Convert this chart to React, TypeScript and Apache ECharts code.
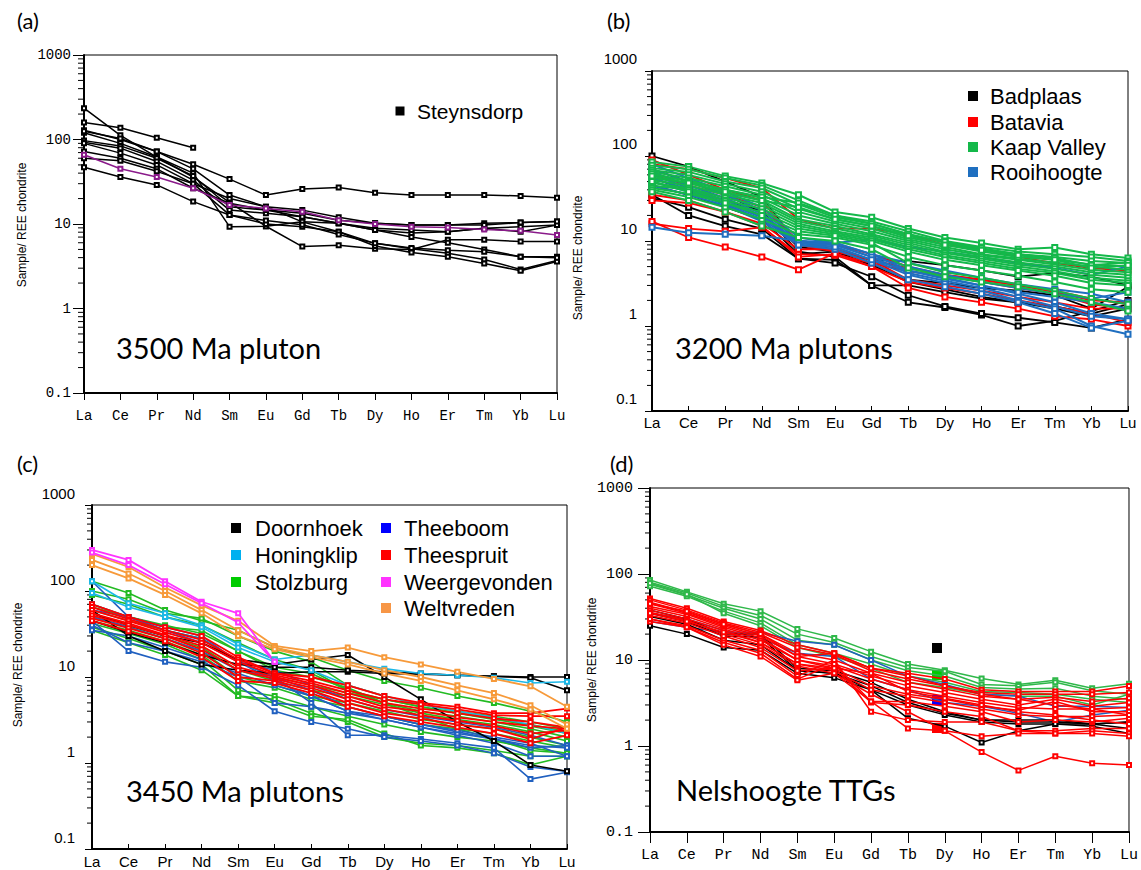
import React, { useEffect, useRef } from "react";
import * as echarts from "echarts";

const REE = ["La", "Ce", "Pr", "Nd", "Sm", "Eu", "Gd", "Tb", "Dy", "Ho", "Er", "Tm", "Yb", "Lu"];
const MINOR_TICKS = [0.2, 0.3, 0.4, 0.5, 0.6, 0.7, 0.8, 0.9, 2, 3, 4, 5, 6, 7, 8, 9, 20, 30, 40, 50, 60, 70, 80, 90, 200, 300, 400, 500, 600, 700, 800, 900];

// (a) 3500 Ma pluton
const steynsdorp = [
  [129, 100, 72, 51, 34, 22, 26, 27, 23.5, 22, 22, 22, 21.5, 20.5],
  [159, 138, 105, 80, null, null, null, null, null, null, null, null, null, null],
  [235, 112, 62, 36, 18, 9.4, 5.4, 5.6, 5.1, 5.0, 6.5, 6.5, 6.2, 6.2],
  [120, 90, 62, 40, 9.3, 9.4, 10.6, 10.2, 8.5, 7.8, 8.1, 8.9, 9.3, 9.7],
  [97, 84, 60, 37, 16, 14.6, 13.4, 11.1, 10.2, 9.7, 9.7, 10.2, 10.4, 10.7],
  [93, 79, 55, 33, 14.6, 13.4, 12.2, 10.2, 8.9, 8.5, 8.1, 8.9, 8.1, 9.7],
  [90, 69, 50, 30, 20, 16, 14.6, 12.0, 10.2, 9.7, 9.7, 9.7, 10.4, 10.7],
  [72, 60, 45, 26.5, 17.6, 14.6, 12.2, 10.2, 8.5, 7.0, 6.0, 5.0, 4.1, 4.1],
  [125, 103, 72, 45, 22, 16, 10.6, 8.1, 5.9, 5.1, 4.5, 3.8, 2.9, 3.7],
  [60, 56, 42, 30, 12.8, 10, 9.3, 8.1, 5.5, 4.6, 4.1, 3.4, 2.8, 3.6],
  [47, 36, 29, 18.4, 12.8, 11, 9.8, 7.5, 5.9, 5.2, 4.9, 4.7, 4.1, 4.0],
];
const steynsdorpMean = [[66, 45, 36, 26.5, 16.8, 15.3, 14.0, 11.1, 10, 9.3, 9.1, 8.6, 8.3, 7.4]];

// (b) 3200 Ma plutons
const badplaas = [
  [100, 75, 50, 33, 9, 8, 5.5, 3.5, 3.2, 2.8, 2.6, 2.3, 1.6, 2.9],
  [35, 20, 15, 12, 6.2, 6.0, 3.0, 1.9, 1.65, 1.35, 1.0, 1.15, 1.5, 2.0],
  [32, 25, 18, 14, 6.2, 5.5, 3.8, 2.3, 1.7, 1.4, 1.25, 1.1, 0.95, 1.2],
  [55, 40, 30, 22, 8.5, 7.5, 5.2, 3.3, 2.7, 2.2, 1.9, 1.6, 1.3, 1.6],
  [70, 50, 35, 22, 7.5, 6.5, 3.0, 3.0, 2.5, 2.1, 1.9, 1.7, 1.4, 1.8],
  [45, 35, 25, 18, 7, 7.5, 6, 5.8, 5.2, 4.5, 3.8, 4.2, 3.8, 3.0],
];
const batavia = [
  [16, 14, 13, 14.5, 7, 6.8, 5, 2.8, 2.2, 1.9, 1.6, 1.3, 1.2, 1.0],
  [17, 11, 8.5, 6.5, 4.6, 7.2, 5.0, 3.3, 2.8, 2.4, 2.0, 1.7, 1.4, 1.1],
  [90, 60, 40, 30, 9, 7.5, 6, 3.5, 3.0, 2.6, 2.2, 1.9, 1.6, 1.6],
  [35, 30, 22, 15, 6.5, 7, 5.5, 4.4, 3.9, 3.3, 2.8, 2.4, 1.8, 1.6],
  [80, 70, 55, 42, 18, 14, 14, 12, 9, 8, 6.5, 5.5, 4.8, 4.5],
  [60, 45, 35, 25, 10, 9, 7, 5, 4, 3.5, 3, 2.6, 2.1, 1.8],
  [30, 28, 22, 16, 8, 8, 6, 4.8, 4.0, 3.5, 3.0, 2.5, 2.0, 1.9],
];
const kaapValley = [
  [85, 75, 58, 48, 35, 22, 19, 14, 11, 9.5, 8, 8.4, 7, 6.3],
  [78, 70, 55, 45, 30, 20, 17, 13, 10, 8.5, 7.5, 7, 6.5, 5.8],
  [72, 65, 50, 42, 27, 19, 16, 12, 9.5, 8, 7, 6.5, 5.8, 5.5],
  [68, 60, 47, 38, 24, 18, 15, 11, 9, 7.5, 6.5, 6, 5.3, 5.0],
  [65, 55, 44, 35, 22, 17, 14, 10.5, 8.5, 7, 6.2, 5.6, 5, 4.6],
  [60, 52, 40, 32, 20, 16, 13, 10, 8, 6.8, 6, 5.3, 4.6, 4.3],
  [55, 48, 37, 30, 18, 15, 12, 9.5, 7.5, 6.5, 5.6, 5, 4.3, 4],
  [52, 45, 35, 28, 17, 14, 11.5, 9, 7.2, 6.2, 5.3, 4.7, 4, 3.7],
  [48, 42, 32, 26, 16, 13, 11, 8.5, 6.8, 5.8, 5, 4.4, 3.7, 3.4],
  [45, 40, 30, 24, 15, 12.5, 10.5, 8, 6.5, 5.5, 4.7, 4.2, 3.5, 3.2],
  [42, 36, 28, 22, 14, 12, 10, 7.5, 6, 5.2, 4.5, 3.9, 3.2, 3.0],
  [40, 33, 25, 18, 12, 11, 9, 6.5, 5.2, 4.5, 3.9, 3.3, 2.7, 2.5],
  [50, 38, 28, 20, 13, 11.5, 9.5, 5.5, 4.3, 3.7, 3.1, 2.6, 2.1, 1.8],
  [38, 30, 22, 15, 11, 10, 8, 4.8, 3.8, 3.3, 2.9, 2.4, 1.9, 1.5],
  [62, 50, 40, 33, 28, 20, 16, 12, 9.8, 8.2, 7, 6.3, 5.2, 5.6],
  [58, 48, 38, 30, 25, 18, 15, 11.5, 9, 7.8, 6.8, 6, 4.8, 5.2],
];
const rooihoogte = [
  [14.5, 12.5, 12, 11.5, 10, 9.5, 10.5, 8.5, 7.5, 6.5, 5.5, 4.8, 4.0, 5.0],
  [80, 55, 38, 25, 11, 9.5, 7, 4.5, 3.7, 3.0, 2.4, 1.9, 1.4, 1.2],
  [70, 50, 35, 23, 10, 9, 6.5, 4.2, 3.4, 2.8, 2.2, 1.7, 1.3, 1.2],
  [65, 45, 32, 21, 9.5, 8.5, 6, 4, 3.2, 2.6, 2.0, 1.6, 1.0, 0.8],
  [60, 42, 30, 20, 9, 8, 5.5, 3.5, 2.9, 2.4, 1.9, 1.4, 0.95, 1.15],
  [55, 40, 28, 19, 10, 9.5, 7, 5.5, 4.5, 3.7, 3.1, 2.7, 2.4, 1.9],
  [50, 38, 27, 18, 9.5, 9, 6.5, 5, 4, 3.3, 2.8, 2.4, 2.1, 2.5],
  [45, 35, 26, 17, 9, 8.5, 6, 4.5, 3.6, 3.0, 2.5, 2.2, 1.9, 1.6],
];

// (c) 3450 Ma plutons
const doornhoek = [
  [55, 40, 30, 25, 16, 14, 16, 18, 10, 5.5, 3, 1.8, 0.95, 0.8],
  [60, 30, 20, 14, 12, 11, 11.5, 11.5, 11, 10.8, 10.5, 10.2, 10, 10],
  [45, 33, 25, 18, 14, 13, 13, 12, 11.5, 11, 10.5, 10.2, 9.8, 7.0],
];
const honingklip = [
  [130, 72, 55, 40, 24, 16, 18, 15, 12.5, 11, 10.5, 9.8, 8.5, 8.8],
  [95, 65, 50, 38, 22, 15, 12, 8, 6, 4.8, 4, 3.4, 2.8, 2.2],
];
const stolzburg = [
  [130, 95, 60, 45, 35, 22, 17, 12, 9, 7.5, 6, 5, 4, 3],
  [100, 80, 55, 48, 30, 20, 15, 8, 6, 4.8, 4, 3.5, 3, 2.5],
  [90, 70, 50, 40, 25, 16, 12, 7, 5.5, 4.5, 3.8, 3.2, 2.8, 2.3],
  [70, 50, 40, 32, 20, 12, 10, 7.5, 5, 4, 3.5, 3, 2.5, 2.0],
  [60, 45, 35, 28, 15, 10, 8, 6.5, 5.5, 4.5, 3.8, 3.3, 2.7, 2.2],
  [55, 40, 30, 22, 12, 9, 7, 6, 4.8, 3.8, 3.2, 2.8, 2.3, 1.8],
  [50, 38, 28, 20, 10, 8, 6, 5, 4, 3.2, 2.8, 2.5, 2.0, 1.6],
  [45, 35, 26, 18, 9, 7.5, 5.5, 4.5, 3.5, 2.8, 2.5, 2.2, 1.8, 1.5],
  [42, 32, 24, 16, 7, 6, 4.5, 3.5, 2.8, 2.3, 2, 1.8, 1.5, 1.3],
  [38, 28, 20, 14, 6, 5.5, 3.8, 3, 2, 1.7, 1.6, 1.4, 1.2, 1.2],
  [35, 25, 18, 12, 6, 5, 3.5, 3.2, 2.2, 1.6, 1.5, 1.3, 0.95, 1.2],
  [65, 50, 38, 35, 20, 13, 11, 7, 5, 3.5, 2.5, 1.9, 1.4, 1.3],
];
const theeboom = [
  [130, 50, 35, 25, 15, 12, 8, 5.5, 4.2, 3.5, 3.0, 2.6, 2.1, 1.6],
  [50, 38, 28, 20, 12, 10, 5, 2.1, 2.1, 1.9, 1.7, 1.5, 0.65, 0.78],
  [45, 20, 15, 13, 8, 4, 3, 2.5, 2, 1.8, 1.6, 1.3, 0.9, 0.8],
  [60, 50, 35, 28, 15, 10, 7, 4.5, 3.5, 2.8, 2.3, 1.9, 1.5, 1.6],
  [70, 50, 38, 30, 15, 9, 6, 4, 3.2, 2.6, 2.1, 1.7, 1.2, 1.2],
  [40, 25, 20, 15, 10, 5, 4.5, 3.8, 3.2, 2.6, 2.2, 1.9, 1.6, 1.5],
  [35, 30, 22, 16, 11, 8, 6, 4, 3.5, 2.8, 2.4, 2, 1.7, 1.2],
];
const theespruit = [
  [70, 50, 38, 30, 17, 11, 10, 8, 6, 5, 4.5, 3.8, 3.8, 4.3],
  [65, 47, 35, 27, 16, 11, 9, 7, 5.5, 4.8, 4.2, 3.6, 3.5, 3.5],
  [60, 45, 33, 25, 15, 10.5, 8.5, 6.5, 5, 4.3, 3.8, 3.3, 3.0, 2.6],
  [55, 42, 31, 23, 13, 10, 8, 6, 4.5, 4, 3.4, 3, 2.7, 2.5],
  [52, 40, 30, 21, 12, 9.5, 7.5, 5.5, 4.2, 3.6, 3.1, 2.7, 2.2, 2.4],
  [48, 37, 28, 19, 10, 9, 7, 5, 3.8, 3.3, 2.8, 2.5, 1.9, 2.6],
  [45, 34, 26, 17, 9, 8.5, 6.5, 4.5, 3.5, 3.0, 2.6, 2.2, 1.7, 2.1],
];
const weergevonden = [
  [300, 230, 130, 75, 55, 15, null, null, null, null, null, null, null, null],
  [280, 200, 120, 72, 43, 15, null, null, null, null, null, null, null, null],
];
const weltvreden = [
  [270, 190, 110, 68, 45, 23, 20, 22, 17, 14, 11.5, 9.5, 7.8, 4.5],
  [230, 160, 100, 60, 35, 22, 18, 15, 12, 10, 8, 6.5, 4.7, 2.8],
  [200, 140, 90, 55, 30, 21, 17, 14, 11, 9, 7, 5.5, 4.2, 2.5],
];

// (d) Nelshoogte TTGs
const nelsGreen = [
  [85, 62, 45, 37, 23, 18, 12.5, 9, 7.6, 6.1, 5.2, 5.8, 4.7, 5.3],
  [80, 60, 42, 33, 20, 16, 11, 8.2, 7.4, 5.2, 5.0, 5.5, 4.4, 4.0],
  [76, 57, 40, 30, 17, 15, 10, 7.5, 6.5, 4.8, 4.6, 4.7, 3.8, 3.5],
  [72, 55, 37, 27, 15, 12, 9, 6.5, 5.5, 4.3, 4.2, 4.0, 3.5, 3.2],
  [78, 58, 35, 25, 14, 11, 8, 5.5, 4.8, 4.0, 3.8, 3.8, 3.0, 4.0],
];
const nelsBlue = [
  [28, 24, 21, 21, 16.5, 15, 10, 6.5, 5.2, 4, 3.8, 2.9, 2.9, 2.8],
  [35, 30, 22, 18, 12, 11, 6, 4.5, 3.2, 2.9, 2.4, 1.9, 2.3, 2.6],
];
const nelsBlack = [
  [38, 30, 20, 20, 8, 7.5, 5.5, 3.5, 2.5, 2.0, 1.9, 1.9, 1.8, 1.9],
  [35, 28, 19, 18.5, 7.5, 7.0, 5.0, 3.2, 2.4, 2.0, 2.0, 2.0, 1.8, 1.6],
  [32, 26, 17, 15, 7.6, 7.0, 4.5, 3.0, 2.3, 1.9, 1.8, 1.8, 1.7, 1.4],
  [25, 20, 14, 13, 7.0, 6.2, 4.5, 2.1, 1.7, 1.1, 1.5, 1.8, 1.8, 1.9],
];
const nelsRed = [
  [52, 40, 28, 22, 15, 12, 8, 7, 6, 4.5, 4.3, 4.3, 4.3, 5.0],
  [50, 38, 27, 21, 14, 11.5, 7.5, 6, 5, 4.2, 4.0, 4.0, 4.0, 4.2],
  [47, 36, 26, 20, 12, 10, 7, 5.5, 4.6, 3.8, 3.5, 3.7, 3.3, 3.6],
  [45, 35, 25, 19, 11, 9, 6.5, 5, 4.2, 3.5, 3.0, 3.5, 2.9, 3.2],
  [42, 34, 24, 18, 10, 8.5, 6, 4.5, 3.8, 3.2, 2.8, 2.7, 2.7, 2.8],
  [40, 32, 23, 17, 10, 8, 5, 4, 3.5, 2.9, 2.6, 3.3, 2.5, 2.5],
  [38, 30, 22, 16, 9, 7.5, 4.5, 3.8, 3.2, 2.7, 2.3, 2.2, 2.2, 2.3],
  [36, 29, 20, 15, 8.5, 7, 3.3, 3.3, 2.9, 2.5, 1.9, 2.0, 1.9, 2.1],
  [33, 27, 19, 14, 7.5, 8, 3.2, 3.0, 2.5, 2.2, 1.5, 1.5, 1.6, 1.6],
  [30, 25, 17, 13, 6.5, 10, 2.5, 2.0, 1.9, 1.9, 1.5, 1.4, 1.5, 1.4],
  [28, 24, 16, 12, 6, 9, 3.3, 1.6, 1.5, 1.3, 1.4, 1.4, 1.4, 1.3],
  [30, 24, 15, 11, 5.8, 7, 4, 2.5, 1.5, 0.85, 0.52, 0.76, 0.63, 0.6],
  [45, 37, 26, 20, 11, 12, 8, 6.5, 5, 4.0, 3.5, 3.0, 2.7, 2.3],
  [35, 28, 21, 16, 9, 8, 7, 4.3, 3.6, 3.0, 2.5, 2.3, 2.0, 1.8],
];

const legendA = ["Steynsdorp"];
const legendB = ["Badplaas", "Batavia", "Kaap Valley", "Rooihoogte"];
const legendC1 = ["Doornhoek", "Honingklip", "Stolzburg"];
const legendC2 = ["Theeboom", "Theespruit", "Weergevonden", "Weltvreden"];

const SANS = "Liberation Sans, Arial, sans-serif";
const MONO = "Liberation Mono, monospace";
const CAL = "Lato, Open Sans, sans-serif";

const grids = [
  { left: 84, top: 55, width: 473, height: 338 },
  { left: 652, top: 71, width: 476, height: 340 },
  { left: 92, top: 505, width: 475, height: 344 },
  { left: 650, top: 488, width: 481, height: 344 },
];

const panelStyle = [
  { xFont: MONO, xSize: 14, xMargin: 16, xTickIn: false, xTickLen: 7, yFont: MONO, ySize: 14, yMargin: 13, yShift: 0, majorLen: 11, minorLen: 6 },
  { xFont: SANS, xSize: 15, xMargin: 4, xTickIn: true, xTickLen: 5, yFont: SANS, ySize: 15, yMargin: 15, yShift: 5, majorLen: 7, minorLen: 5 },
  { xFont: SANS, xSize: 15, xMargin: 5, xTickIn: true, xTickLen: 5, yFont: SANS, ySize: 15, yMargin: 17, yShift: 4, majorLen: 7, minorLen: 5 },
  { xFont: MONO, xSize: 15, xMargin: 16, xTickIn: false, xTickLen: 11, yFont: MONO, ySize: 15, yMargin: 17, yShift: 0, majorLen: 12, minorLen: 5 },
];

function fmt(v: number) {
  return v < 1 ? v.toFixed(1) : String(Math.round(v));
}

function lineSeries(gi: number, rows: (number | null)[][], color: string, width: number, size: number) {
  return rows.map((r) => ({
    type: "line",
    xAxisIndex: gi,
    yAxisIndex: gi,
    data: r,
    symbol: "emptyRect",
    symbolSize: size,
    showAllSymbol: true,
    connectNulls: false,
    silent: true,
    lineStyle: { color, width },
    itemStyle: { color, borderColor: color, borderWidth: 1 },
    emphasis: { disabled: true },
  }));
}

function minorTickSeries(gi: number, len: number) {
  return {
    type: "custom",
    xAxisIndex: gi,
    yAxisIndex: gi,
    silent: true,
    clip: false,
    data: MINOR_TICKS.map((v) => [0, v]),
    renderItem: (params: any, api: any) => {
      const p = api.coord([api.value(0), api.value(1)]);
      return {
        type: "line",
        shape: { x1: p[0] - len, y1: p[1], x2: p[0], y2: p[1] },
        style: { stroke: "#000", lineWidth: 1 },
      };
    },
  };
}

function txt(text: string, x: number, y: number, size: number, family: string, extra: any = {}) {
  return {
    type: "text",
    x,
    y,
    silent: true,
    style: { text, fontSize: size, fontFamily: family, fill: "#000", align: "left", verticalAlign: "middle", ...extra },
  };
}

function square(x: number, y: number, s: number, color: string) {
  return { type: "rect", silent: true, shape: { x: x - s / 2, y: y - s / 2, width: s, height: s }, style: { fill: color } };
}

function vname(x: number, y: number) {
  return {
    type: "text",
    x,
    y,
    rotation: Math.PI / 2,
    silent: true,
    style: { text: "Sample/ REE chondrite", fontSize: 12, fontFamily: SANS, fill: "#000", align: "center", verticalAlign: "middle" },
  };
}

export default function App() {
  const ref = useRef<HTMLDivElement>(null);
  useEffect(() => {
    if (!ref.current) return;
    const chart = echarts.init(ref.current, null, { renderer: "svg" });

    const xAxis = grids.map((g, i) => {
      const ps = panelStyle[i];
      return {
        type: "category",
        gridIndex: i,
        data: REE,
        boundaryGap: false,
        axisLine: { show: true, lineStyle: { color: "#000", width: 2 } },
        axisTick: { show: true, inside: ps.xTickIn, length: ps.xTickLen, lineStyle: { color: "#000", width: 1 } },
        axisLabel: { fontFamily: ps.xFont, fontSize: ps.xSize, color: "#000", margin: ps.xMargin, interval: 0 },
        splitLine: { show: false },
      };
    });
    const yAxis = grids.map((g, i) => {
      const ps = panelStyle[i];
      return {
        type: "log",
        gridIndex: i,
        logBase: 10,
        min: 0.1,
        max: 1000,
        axisLine: { show: true, lineStyle: { color: "#000", width: 2 } },
        axisTick: { show: true, inside: false, length: ps.majorLen, lineStyle: { color: "#000", width: 1 } },
        axisLabel: {
          fontFamily: ps.yFont,
          fontSize: ps.ySize,
          color: "#000",
          margin: ps.yMargin,
          formatter: fmt,
          verticalAlign: ps.yShift ? "bottom" : "middle",
          padding: ps.yShift ? [0, 0, ps.yShift, 0] : 0,
        },
        splitLine: { show: false },
      };
    });

    const GREEN_B = "#14b84a";
    const BLUE_B = "#1f6fc0";
    const series: any[] = [
      ...grids.map((g, i) => minorTickSeries(i, panelStyle[i].minorLen)),
      // (a)
      ...lineSeries(0, steynsdorp, "#000", 1.5, 4),
      ...lineSeries(0, steynsdorpMean, "#8a1a8a", 1.5, 4),
      // (b)
      ...lineSeries(1, badplaas, "#000", 1.8, 5),
      ...lineSeries(1, batavia, "#ff0000", 1.8, 5),
      ...lineSeries(1, rooihoogte, BLUE_B, 2, 5),
      ...lineSeries(1, kaapValley, GREEN_B, 2, 5),
      // (c)
      ...lineSeries(2, stolzburg, "#22bb22", 1.6, 4),
      ...lineSeries(2, theeboom, "#2060c0", 1.6, 4),
      ...lineSeries(2, doornhoek, "#000", 1.6, 4),
      ...lineSeries(2, honingklip, "#1cb8e8", 1.6, 4),
      ...lineSeries(2, theespruit, "#ff0000", 1.8, 4),
      ...lineSeries(2, weltvreden, "#f79a3a", 1.8, 4),
      ...lineSeries(2, weergevonden, "#ff33ff", 1.8, 4),
      // (d)
      ...lineSeries(3, nelsGreen, "#2fb84a", 1.5, 4),
      ...lineSeries(3, nelsBlue, "#2060c0", 1.5, 4),
      ...lineSeries(3, nelsBlack, "#000", 1.5, 4),
      ...lineSeries(3, nelsRed, "#ff0000", 1.5, 4),
    ];

    const legColorsB = ["#000", "#ff0000", GREEN_B, BLUE_B];
    const legColorsC1 = ["#000", "#00b0f0", "#00cc00"];
    const legColorsC2 = ["#0000ff", "#ff0000", "#ff33ff", "#f79646"];
    const rowsB = [96, 122, 147, 172];
    const rowsC = [528, 555, 582, 608];

    const graphic: any[] = [
      txt("(a)", 17, 20, 22, CAL),
      txt("(b)", 607, 20, 22, CAL),
      txt("(c)", 17, 463, 22, CAL),
      txt("(d)", 610, 463, 22, CAL),
      txt("3500 Ma pluton", 116, 347, 29, CAL),
      txt("3200 Ma plutons", 675, 347, 29, CAL),
      txt("3450 Ma plutons", 126, 790, 29, CAL),
      txt("Nelshoogte TTGs", 676, 789, 29, CAL),
      vname(22, 225),
      vname(578, 258),
      vname(18, 665),
      vname(592, 660),
      square(400, 111, 9, "#000"),
      txt(legendA[0], 417, 111, 21, SANS),
      ...legendB.flatMap((n, k) => [square(973, rowsB[k], 10, legColorsB[k]), txt(n, 990, rowsB[k], 22, SANS)]),
      ...legendC1.flatMap((n, k) => [square(236, rowsC[k], 10, legColorsC1[k]), txt(n, 255, rowsC[k], 22, SANS)]),
      ...legendC2.flatMap((n, k) => [square(386, rowsC[k], 10, legColorsC2[k]), txt(n, 404, rowsC[k], 22, SANS)]),
      square(937, 648, 10, "#000"),
      square(937, 675, 10, "#00cc00"),
      square(937, 700, 10, "#0000ff"),
      square(937, 728, 10, "#ff0000"),
    ];

    chart.setOption({
      animation: false,
      backgroundColor: "#fff",
      grid: grids.map((g) => ({ ...g, show: true, borderColor: "#000", borderWidth: 1, backgroundColor: "transparent", containLabel: false })),
      xAxis,
      yAxis,
      series,
      graphic,
    });
    return () => chart.dispose();
  }, []);
  return <div ref={ref} style={{ position: "fixed", left: 0, top: 0, width: 1141, height: 870, background: "#fff" }} />;
}
